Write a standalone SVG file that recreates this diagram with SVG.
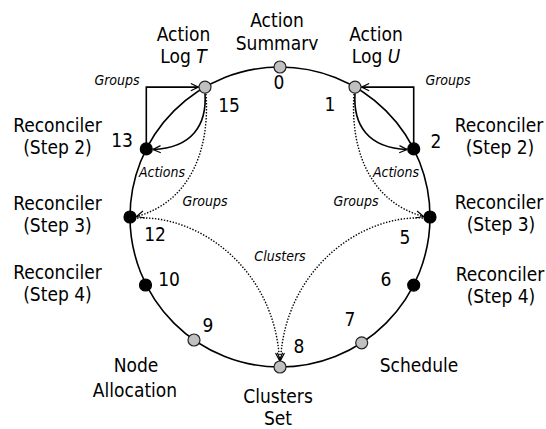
<svg xmlns="http://www.w3.org/2000/svg" width="546" height="429" viewBox="0 0 546 429">
<style>
text{font-family:'DejaVu Sans Condensed','DejaVu Sans',sans-serif;font-stretch:condensed;fill:#000}
.t{font-size:19px;text-anchor:middle}
.n{font-size:19px;text-anchor:middle}
.i{font-size:14px;font-style:italic;text-anchor:middle}
.g{fill:#c0c0c0;stroke:#222;stroke-width:1.2}
.b{fill:#000;stroke:#000;stroke-width:1.2}
.ring{fill:none;stroke:#000;stroke-width:1.6}
.s{fill:none;stroke:#000;stroke-width:1.6}
.d{fill:none;stroke:#000;stroke-width:1.4;stroke-dasharray:1.4 1.6}
</style>
<defs>
<marker id="ah" viewBox="0 0 10 10" refX="9.5" refY="5" markerWidth="9" markerHeight="9" markerUnits="userSpaceOnUse" orient="auto">
<path d="M1,1 L9.5,5 L1,9" fill="none" stroke="#000" stroke-width="1.3"/>
</marker>
<clipPath id="clipSum"><rect x="0" y="0" width="546" height="50"/></clipPath>
</defs>
<circle class="ring" cx="280" cy="217" r="150"/>
<g id="connectors">
<path class="s" d="M146.3,143 L146.3,87.1 L198.5,87.1" marker-end="url(#ah)"/>
<path class="s" d="M413.7,143 L413.7,87.1 L361.5,87.1" marker-end="url(#ah)"/>
<path class="s" d="M205,93.5 C207,125 192,148 153,149.5" marker-end="url(#ah)"/>
<path class="s" d="M355,93.5 C353,125 368,148 407,149.5" marker-end="url(#ah)"/>
<path class="d" d="M206,94 C210,150 190,202 136.5,216.5" marker-end="url(#ah)"/>
<path class="d" d="M354,94 C350,150 370,202 423.5,216.5" marker-end="url(#ah)"/>
<path class="d" d="M137,218 C200,215 275,270 279.5,360.5" marker-end="url(#ah)"/>
<path class="d" d="M423,218 C360,215 285,270 280.5,360.5" marker-end="url(#ah)"/>
<text class="i" x="117" y="85">Groups</text>
<text class="i" x="448" y="85">Groups</text>
<text class="i" x="162" y="177">Actions</text>
<text class="i" x="396" y="177">Actions</text>
<text class="i" x="205" y="206">Groups</text>
<text class="i" x="356" y="206">Groups</text>
<text class="i" x="280" y="261">Clusters</text>
</g>
<g id="node0">
<circle class="g" cx="280" cy="67" r="6"/>
<text class="n" x="279" y="89">0</text>
<text class="t" x="277" y="27">Action</text>
<text class="t" x="277" y="49.5" clip-path="url(#clipSum)">Summary</text>
</g>
<g id="node1">
<circle class="g" cx="355" cy="87.1" r="6"/>
<text class="n" x="330" y="111">1</text>
<text class="t" x="376" y="41">Action</text>
<text class="t" x="376" y="63">Log <tspan font-style="italic">U</tspan></text>
</g>
<g id="node2">
<circle class="b" cx="413.7" cy="148.9" r="6"/>
<text class="n" x="436" y="148">2</text>
<text class="t" x="499" y="132">Reconciler</text>
<text class="t" x="500" y="154">(Step 2)</text>
</g>
<g id="node5">
<circle class="b" cx="430" cy="217" r="6"/>
<text class="n" x="405" y="244">5</text>
<text class="t" x="499" y="209">Reconciler</text>
<text class="t" x="501" y="231">(Step 3)</text>
</g>
<g id="node6">
<circle class="b" cx="413.7" cy="285.1" r="6"/>
<text class="n" x="386" y="286">6</text>
<text class="t" x="500" y="281">Reconciler</text>
<text class="t" x="501" y="303">(Step 4)</text>
</g>
<g id="node7">
<circle class="g" cx="361.7" cy="342.8" r="6"/>
<text class="n" x="350" y="326">7</text>
<text class="t" x="419" y="372">Schedule</text>
</g>
<g id="node8">
<circle class="g" cx="280" cy="367" r="6"/>
<text class="n" x="299" y="353">8</text>
<text class="t" x="278" y="403">Clusters</text>
<text class="t" x="278" y="424.5">Set</text>
</g>
<g id="node9">
<circle class="g" cx="194" cy="340" r="6"/>
<text class="n" x="208" y="332">9</text>
<text class="t" x="136" y="372">Node</text>
<text class="t" x="135" y="397">Allocation</text>
</g>
<g id="node10">
<circle class="b" cx="145.5" cy="285" r="6"/>
<text class="n" x="169" y="286">10</text>
<text class="t" x="57.5" y="279">Reconciler</text>
<text class="t" x="57.5" y="301">(Step 4)</text>
</g>
<g id="node12">
<circle class="b" cx="130" cy="217" r="6"/>
<text class="n" x="155" y="241">12</text>
<text class="t" x="57.5" y="210">Reconciler</text>
<text class="t" x="57.5" y="232">(Step 3)</text>
</g>
<g id="node13">
<circle class="b" cx="146.3" cy="148.9" r="6"/>
<text class="n" x="122" y="147">13</text>
<text class="t" x="57.5" y="132">Reconciler</text>
<text class="t" x="57.5" y="154">(Step 2)</text>
</g>
<g id="node15">
<circle class="g" cx="205" cy="87.1" r="6"/>
<text class="n" x="229" y="112">15</text>
<text class="t" x="183.5" y="41">Action</text>
<text class="t" x="183.5" y="63">Log <tspan font-style="italic">T</tspan></text>
</g>
</svg>
